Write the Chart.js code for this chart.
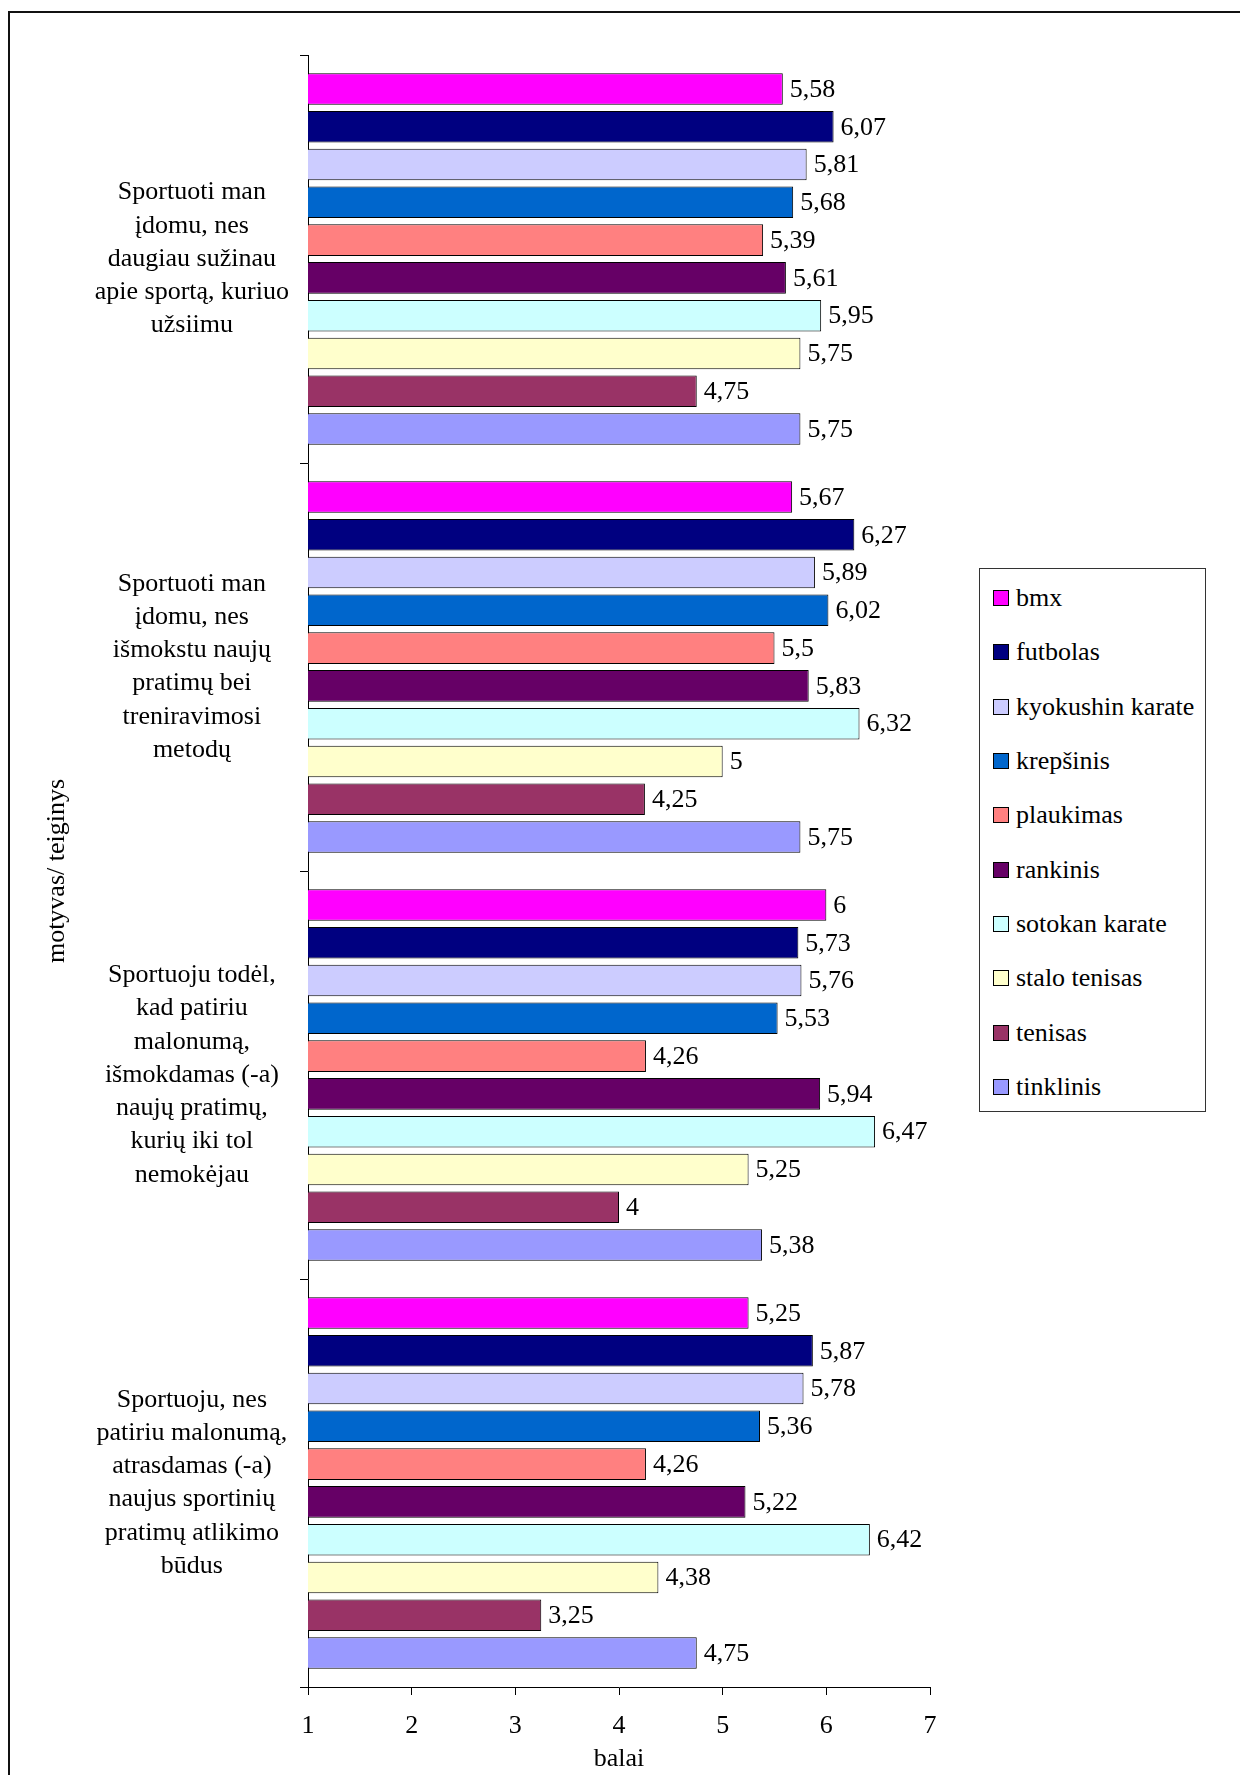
<!DOCTYPE html>
<html>
<head>
<meta charset="utf-8">
<script src="https://cdn.jsdelivr.net/npm/chart.js@4"></script>
<style>
  html,body{margin:0;padding:0;background:#fff;overflow:hidden;}
  body{width:1240px;height:1775px;position:relative;font-family:"Liberation Serif","Times New Roman",serif;}
  #remas{position:absolute;left:8px;top:11px;width:1300px;height:1900px;border:2px solid #111;}
  #grafikas{position:absolute;left:0;top:0;}
  #legenda{position:absolute;left:979px;top:568px;width:227px;height:544px;box-sizing:border-box;border:1px solid #333;padding-top:2px;background:#fff;}
  .eil{height:54.3px;display:flex;align-items:center;font-size:26px;color:#000;}
  .sp{width:14px;height:14px;border:1px solid #000;margin-left:13px;margin-right:7px;flex:none;}
</style>
</head>
<body>
<div id="remas"></div>
<canvas id="grafikas" width="1240" height="1775"></canvas>
<div id="legenda"></div>
<script>
const kategorijos=[
  ['Sportuoti man','įdomu, nes','daugiau sužinau','apie sportą, kuriuo','užsiimu'],
  ['Sportuoti man','įdomu, nes','išmokstu naujų','pratimų bei','treniravimosi','metodų'],
  ['Sportuoju todėl,','kad patiriu','malonumą,','išmokdamas (-a)','naujų pratimų,','kurių iki tol','nemokėjau'],
  ['Sportuoju, nes','patiriu malonumą,','atrasdamas (-a)','naujus sportinių','pratimų atlikimo','būdus']
];
const sakos=['bmx','futbolas','kyokushin karate','krepšinis','plaukimas','rankinis','sotokan karate','stalo tenisas','tenisas','tinklinis'];
const spalvos=['#ff00ff','#000080','#ccccff','#0066cc','#ff8080','#660066','#ccffff','#ffffcc','#993366','#9999ff'];

const bmx=[5.58,5.67,6,5.25];
const futbolas=[6.07,6.27,5.73,5.87];
const kyokushin=[5.81,5.89,5.76,5.78];
const krepsinis=[5.68,6.02,5.53,5.36];
const plaukimas=[5.39,5.5,4.26,4.26];
const rankinis=[5.61,5.83,5.94,5.22];
const sotokan=[5.95,6.32,6.47,6.42];
const staloTenisas=[5.75,5,5.25,4.38];
const tenisas=[4.75,4.25,4,3.25];
const tinklinis=[5.75,5.75,5.38,4.75];
const reiksmes=[bmx,futbolas,kyokushin,krepsinis,plaukimas,rankinis,sotokan,staloTenisas,tenisas,tinklinis];

const xTicks=[1,2,3,4,5,6,7];

const SRIFTAS='"Liberation Serif","Times New Roman",serif';

// value labels at the end of each bar
const etiketes={
  id:'etiketes',
  afterDatasetsDraw(chart){
    const ctx=chart.ctx;
    ctx.save();
    ctx.font='26px '+SRIFTAS;
    ctx.fillStyle='#000';
    ctx.textBaseline='middle';
    ctx.textAlign='left';
    chart.data.datasets.forEach((ds,i)=>{
      chart.getDatasetMeta(i).data.forEach((bar,j)=>{
        ctx.fillText(String(ds.data[j]).replace('.',','),bar.x+7,bar.y+1);
      });
    });
    ctx.restore();
  }
};

const ctx=document.getElementById('grafikas').getContext('2d');
const chart=new Chart(ctx,{
  type:'bar',
  data:{
    labels:kategorijos,
    datasets:sakos.map((s,i)=>({
      label:s,data:reiksmes[i],backgroundColor:spalvos[i],borderColor:'#000',borderWidth:1,
      categoryPercentage:0.926,barPercentage:0.835
    }))
  },
  options:{
    indexAxis:'y',
    responsive:false,
    animation:false,
    layout:{padding:{top:55,right:310,bottom:0,left:30}},
    plugins:{legend:{display:false},tooltip:{enabled:false}},
    scales:{
      x:{
        min:1,max:7,
        afterBuildTicks:s=>{s.ticks=xTicks.map(v=>({value:v}));},
        afterFit:s=>{s.height=88;s.paddingLeft=0;s.paddingRight=0;},
        ticks:{color:'#000',font:{family:SRIFTAS,size:26},padding:16},
        grid:{drawOnChartArea:false,tickLength:8,color:'#000',lineWidth:1},
        border:{color:'#000',width:1},
        title:{display:true,text:'balai',color:'#000',font:{family:SRIFTAS,size:26},padding:{top:0,bottom:0}}
      },
      y:{
        afterFit:s=>{s.width=278;s.paddingTop=0;s.paddingBottom=0;},
        ticks:{color:'#000',font:{family:SRIFTAS,size:26,lineHeight:1.28},crossAlign:'center',padding:11},
        grid:{drawOnChartArea:false,tickLength:8,color:'#000',lineWidth:1,offset:true},
        border:{color:'#000',width:1},
        title:{display:true,text:'motyvas/ teiginys',color:'#000',font:{family:SRIFTAS,size:26},padding:{top:12,bottom:0}}
      }
    }
  },
  plugins:[etiketes]
});

// legend built from the same series arrays
const leg=document.getElementById('legenda');
sakos.forEach((s,i)=>{
  const e=document.createElement('div');e.className='eil';
  const sp=document.createElement('span');sp.className='sp';sp.style.background=spalvos[i];
  e.appendChild(sp);e.appendChild(document.createTextNode(s));
  leg.appendChild(e);
});
</script>
</body>
</html>
